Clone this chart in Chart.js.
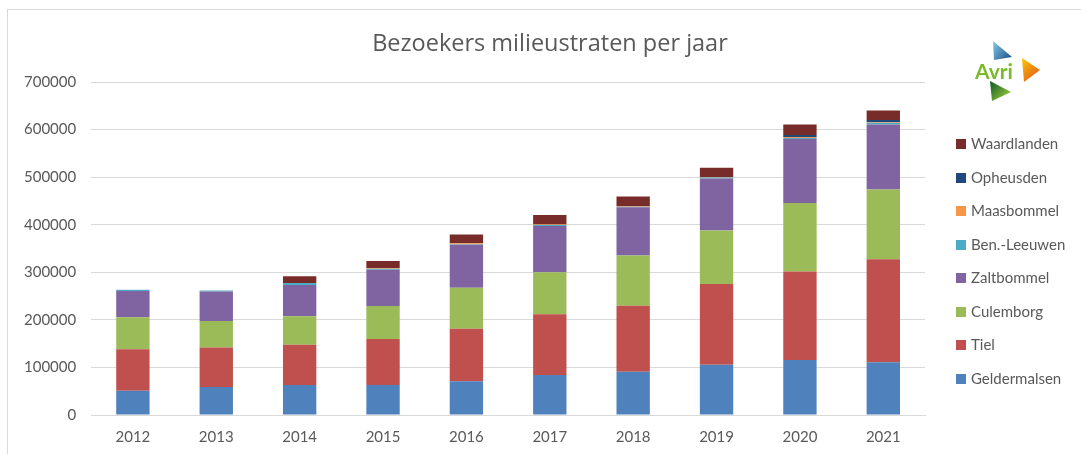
<!DOCTYPE html>
<html>
<head>
<meta charset="utf-8">
<script src="https://cdn.jsdelivr.net/npm/chart.js@4"></script>
<style>
  html, body { margin: 0; padding: 0; background: #fff; }
  #wrap { position: relative; width: 1081px; height: 454px; overflow: hidden; font-family: Lato, "Open Sans", sans-serif; }
  #frame { position: absolute; left: 7px; top: 9px; width: 1100px; height: 500px; border: 1px solid #d9d9d9; box-sizing: border-box; }
  #c { position: absolute; left: 0; top: 0; }
  #title { position: absolute; left: 0; width: 1100px; top: 26px; text-align: center; font-family: "Open Sans", sans-serif; font-size: 23.5px; color: #595959; white-space: nowrap; }
  #legend { position: absolute; left: 956px; top: 0; }
  .li { position: absolute; left: 0; white-space: nowrap; font-size: 15px; color: #595959; line-height: 18px; }
  .li span.b { display: inline-block; width: 10px; height: 10px; margin-right: 5px; vertical-align: 0px; }
</style>
</head>
<body>
<div id="wrap">
  <div id="frame"></div>
  <canvas id="c" width="1081" height="454"></canvas>
  <div id="title">Bezoekers milieustraten per jaar</div>
  <div id="legend"></div>
</div>
<script>
const years = ["2012","2013","2014","2015","2016","2017","2018","2019","2020","2021"];
const seriesNames = ["Geldermalsen","Tiel","Culemborg","Zaltbommel","Ben.-Leeuwen","Maasbommel","Opheusden","Waardlanden"];
const seriesColors = ["#4F81BD","#C0504D","#9BBB59","#8064A2","#4BACC6","#F79646","#1F497D","#772C2A"];
const geldermalsen = [51000, 59000, 63000, 63000, 71000, 84000, 91000, 105500, 115500, 111000];
const tiel         = [87000, 83000, 84500, 96500, 110500, 128000, 138500, 170000, 186000, 216500];
const culemborg    = [67500, 55500, 60000, 69500, 86000, 88000, 106000, 112500, 144000, 146500];
const zaltbommel   = [55000, 62000, 66000, 76500, 90500, 97500, 101000, 109000, 134500, 136500];
const benLeeuwen   = [3000, 2000, 4000, 2000, 1000, 2000, 1500, 2000, 2500, 4000];
const maasbommel   = [0, 0, 0, 1500, 2000, 1000, 1000, 1500, 2000, 1500];
const opheusden    = [0, 0, 0, 0, 0, 0, 0, 0, 4000, 4000];
const waardlanden  = [0, 0, 14000, 14500, 18500, 20000, 20500, 19500, 22000, 20000];
const yTicks = [0, 100000, 200000, 300000, 400000, 500000, 600000, 700000];

const seriesValues = [geldermalsen, tiel, culemborg, zaltbommel, benLeeuwen, maasbommel, opheusden, waardlanden];

const logoPlugin = {
  id: 'logo',
  afterDraw(chart) {
    const ctx = chart.ctx;
    ctx.save();
    let g = ctx.createLinearGradient(990, 42, 1012, 58);
    g.addColorStop(0, '#8fd3f0'); g.addColorStop(1, '#1b4f8a');
    ctx.fillStyle = g;
    ctx.beginPath(); ctx.moveTo(993, 41); ctx.lineTo(1012, 57); ctx.lineTo(994, 60); ctx.closePath(); ctx.fill();
    g = ctx.createLinearGradient(1020, 58, 1040, 78);
    g.addColorStop(0, '#ffcc00'); g.addColorStop(1, '#e2571e');
    ctx.fillStyle = g;
    ctx.beginPath(); ctx.moveTo(1022, 58); ctx.lineTo(1040, 70); ctx.lineTo(1024, 82); ctx.closePath(); ctx.fill();
    g = ctx.createLinearGradient(990, 82, 1010, 100);
    g.addColorStop(0, '#0f5b2a'); g.addColorStop(1, '#a6d33a');
    ctx.fillStyle = g;
    ctx.beginPath(); ctx.moveTo(990, 81); ctx.lineTo(1011, 92); ctx.lineTo(992, 101); ctx.closePath(); ctx.fill();
    ctx.fillStyle = '#7ab929';
    ctx.font = 'bold 21px Lato, "Open Sans", sans-serif';
    ctx.textBaseline = 'alphabetic';
    ctx.fillText('Avri', 975, 79);
    ctx.restore();
  }
};

const datasets = seriesNames.map((name, i) => ({
  label: name,
  data: seriesValues[i],
  backgroundColor: seriesColors[i],
  borderWidth: 0,
  barPercentage: 0.4,
  categoryPercentage: 1.0
}));

new Chart(document.getElementById('c'), {
  type: 'bar',
  data: { labels: years, datasets },
  options: {
    responsive: false,
    animation: false,
    layout: { padding: { top: 82, right: 156, left: 9, bottom: 3 } },
    plugins: {
      legend: { display: false },
      title: { display: false },
      tooltip: { enabled: false }
    },
    scales: {
      x: {
        stacked: true,
        grid: { display: false },
        border: { display: true, color: '#d9d9d9', width: 1 },
        ticks: { color: '#595959', font: { family: 'Lato, "Open Sans", sans-serif', size: 15 }, padding: 5 }
      },
      y: {
        stacked: true,
        min: 0,
        max: 700000,
        afterBuildTicks(scale) { scale.ticks = yTicks.map(v => ({ value: v })); },
        grid: { color: '#d9d9d9', lineWidth: 1, drawTicks: false },
        border: { display: false },
        ticks: { color: '#595959', font: { family: 'Lato, "Open Sans", sans-serif', size: 15 }, padding: 15,
                 callback: v => String(v) }
      }
    }
  },
  plugins: [logoPlugin]
});

const legendEl = document.getElementById('legend');
const legendTop = 134;
const legendStep = 33.5;
seriesNames.slice().reverse().forEach((name, k) => {
  const i = seriesNames.length - 1 - k;
  const d = document.createElement('div');
  d.className = 'li';
  d.style.top = (legendTop + k * legendStep) + 'px';
  d.innerHTML = '<span class="b" style="background:' + seriesColors[i] + '"></span>' + name;
  legendEl.appendChild(d);
});
</script>
</body>
</html>
